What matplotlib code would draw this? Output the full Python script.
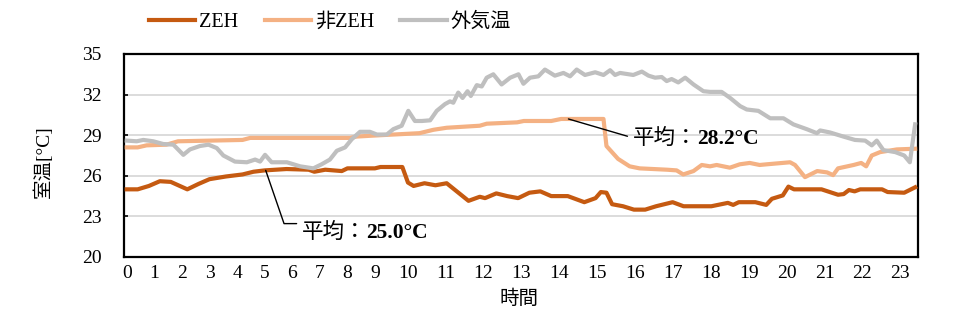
import matplotlib.pyplot as plt
import numpy as np

plt.rcParams['font.family'] = ['Liberation Serif', 'Noto Sans CJK JP']

# 室温・外気温の推移 (時刻は時間単位)
zeh_t = [0.0, 0.33, 0.67, 1.0, 1.33, 1.83, 2.17, 2.5, 3.0, 3.5, 3.83, 4.17, 4.83,
         5.5, 5.67, 6.0, 6.5, 6.67, 7.5, 7.67, 8.33, 8.5, 8.67, 9.0, 9.33, 9.67,
         10.0, 10.33, 10.67, 10.83, 11.17, 11.5, 11.83, 12.17, 12.5, 12.83, 13.33,
         13.83, 14.17, 14.33, 14.5, 14.67, 15.0, 15.33, 15.67, 16.0, 16.5, 16.83,
         17.67, 18.17, 18.33, 18.5, 19.0, 19.33, 19.5, 19.83, 20.0, 20.17, 21.0,
         21.5, 21.67, 21.83, 22.0, 22.17, 22.83, 23.0, 23.5, 23.83]
zeh_v = [25.0, 25.0, 25.25, 25.6, 25.55, 25.0, 25.4, 25.75, 25.95, 26.1, 26.3, 26.4, 26.5,
         26.45, 26.3, 26.45, 26.35, 26.55, 26.55, 26.65, 26.65, 25.5, 25.25, 25.45, 25.3, 25.45,
         24.8, 24.15, 24.45, 24.35, 24.7, 24.5, 24.35, 24.75, 24.85, 24.5, 24.5,
         24.05, 24.35, 24.8, 24.75, 23.9, 23.75, 23.5, 23.5, 23.75, 24.05, 23.75,
         23.75, 24.0, 23.85, 24.05, 24.05, 23.85, 24.3, 24.55, 25.2, 25.0, 25.0,
         24.6, 24.65, 24.95, 24.85, 25.0, 25.0, 24.8, 24.75, 25.15]

non_t = [0.0, 0.33, 0.6, 1.2, 1.55, 3.5, 3.73, 6.75, 6.95, 7.67, 8.85, 9.27, 9.67,
         10.67, 10.88, 11.8, 12.0, 12.83, 13.13, 14.41, 14.5, 14.85, 15.2, 15.5,
         16.33, 16.62, 16.82, 17.13, 17.38, 17.63, 17.83, 18.23, 18.53, 18.83, 19.13,
         19.35, 20.05, 20.2, 20.5, 20.87, 21.17, 21.35, 21.5, 21.97, 22.2, 22.35,
         22.52, 22.77, 23.28, 23.83]
non_v = [28.1, 28.1, 28.25, 28.3, 28.55, 28.65, 28.8, 28.8, 28.9, 29.0, 29.15, 29.4, 29.55,
         29.7, 29.85, 29.95, 30.05, 30.05, 30.2, 30.2, 28.2, 27.25, 26.7, 26.55,
         26.45, 26.4, 26.1, 26.35, 26.8, 26.7, 26.8, 26.6, 26.85, 26.95, 26.8,
         26.85, 27.0, 26.8, 25.9, 26.35, 26.25, 26.05, 26.55, 26.8, 26.95, 26.7,
         27.5, 27.75, 27.95, 28.0]

out_t = [0.0, 0.3, 0.5, 0.8, 1.1, 1.41, 1.71, 1.91, 2.21, 2.47, 2.72, 2.92, 3.27,
         3.63, 3.88, 4.03, 4.18, 4.38, 4.84, 5.24, 5.64, 5.89, 6.14, 6.35, 6.6,
         6.8, 7.05, 7.35, 7.56, 7.86, 8.06, 8.31, 8.51, 8.71, 8.92, 9.17, 9.37,
         9.62, 9.77, 9.87, 10.02, 10.15, 10.3, 10.4, 10.58, 10.73, 10.88, 11.08,
         11.33, 11.59, 11.84, 11.99, 12.19, 12.44, 12.64, 12.94, 13.2, 13.4, 13.6,
         13.85, 14.16, 14.41, 14.61, 14.76, 14.91, 15.31, 15.57, 15.77, 15.97, 16.17,
         16.32, 16.47, 16.67, 16.88, 17.13, 17.43, 17.63, 17.98, 18.24, 18.54, 18.74,
         19.09, 19.45, 19.85, 20.15, 20.55, 20.86, 20.96, 21.26, 21.66, 22.01, 22.32,
         22.52, 22.67, 22.87, 23.23, 23.5, 23.67, 23.83]
out_v = [28.6, 28.55, 28.65, 28.55, 28.35, 28.3, 27.55, 27.95, 28.2, 28.3, 28.05, 27.5, 27.05,
         27.0, 27.2, 27.05, 27.55, 27.0, 27.0, 26.7, 26.55, 26.85, 27.2, 27.85, 28.1,
         28.7, 29.25, 29.25, 29.05, 29.05, 29.45, 29.7, 30.8, 30.05, 30.05, 30.1, 30.8,
         31.3, 31.5, 31.4, 32.15, 31.75, 32.25, 31.9, 32.7, 32.6, 33.25, 33.5,
         32.75, 33.25, 33.5, 32.8, 33.25, 33.35, 33.85, 33.4, 33.6, 33.35, 33.85,
         33.45, 33.65, 33.45, 33.8, 33.45, 33.6, 33.45, 33.7, 33.4, 33.25, 33.3,
         33.0, 33.15, 32.9, 33.25, 32.75, 32.25, 32.2, 32.2, 31.75, 31.15, 30.9,
         30.8, 30.25, 30.25, 29.8, 29.45, 29.15, 29.35, 29.2, 28.9, 28.65, 28.6,
         28.25, 28.6, 27.9, 27.75, 27.5, 27.0, 29.8]

hour_labels = [str(h) for h in range(24)]
y_ticks = [20, 23, 26, 29, 32, 35]

fig = plt.figure(figsize=(9.55, 3.27), dpi=100)
fig.set_facecolor("white")
ax = fig.add_axes([124 / 955, 70 / 327, 794 / 955, 203 / 327])

ax.plot(zeh_t, zeh_v, color="#C55A11", lw=3, solid_joinstyle="round", label="ZEH", zorder=3)
ax.plot(non_t, non_v, color="#F4B183", lw=3, solid_joinstyle="round", label="非ZEH", zorder=3)
ax.plot(out_t, out_v, color="#BFBFBF", lw=3, solid_joinstyle="round", label="外気温", zorder=3)

ax.set_xlim(-1 / 12, 24 - 1 / 12)
ax.set_ylim(20, 35)
ax.set_yticks(y_ticks)
ax.yaxis.grid(True, color="#D9D9D9", lw=1.3, zorder=1)
ax.set_axisbelow(True)
for sp in ax.spines.values():
    sp.set_linewidth(1.6)

# 時刻ラベルは文字幅＋空白で並べた間隔
d, s = 0.311, 0.523
xpos = [0.0]
for a, b in zip(hour_labels[:-1], hour_labels[1:]):
    xpos.append(xpos[-1] + (len(a) + len(b)) * d / 2 + s)
ax.set_xticks(xpos, hour_labels)

ax.tick_params(axis="y", direction="in", length=3, width=1.2, labelsize=14, pad=16)
ax.tick_params(axis="x", length=0, labelsize=14, pad=6)

ax.set_ylabel("室温[°C]", fontsize=14)
ax.yaxis.set_label_coords(-0.09, 0.47)
ax.set_xlabel("時間", fontsize=14)
ax.xaxis.set_label_coords(0.4975, -0.16)

# 平均値の吹き出し
t1 = ax.text(5.29, 21.8, "平均：", ha="left", va="center", fontsize=15.5)
ax.annotate("25.0°C", xy=(1, 0.5), xycoords=t1, ha="left", va="center",
            fontsize=15.5, fontweight="bold")
ax.annotate("", xy=(4.2, 26.4), xytext=(-0.08, 0.95), textcoords=t1,
            arrowprops=dict(arrowstyle="-", color="black", lw=1, shrinkA=0, shrinkB=0,
                            connectionstyle="angle,angleA=0,angleB=-71"))

t2 = ax.text(15.29, 28.7, "平均：", ha="left", va="center", fontsize=15.5)
ax.annotate("28.2°C", xy=(1, 0.5), xycoords=t2, ha="left", va="center",
            fontsize=15.5, fontweight="bold")
ax.annotate("", xy=(13.35, 30.2), xytext=(-0.08, 0.65), textcoords=t2,
            arrowprops=dict(arrowstyle="-", color="black", lw=1, shrinkA=0, shrinkB=0))

fig.legend(loc="center", bbox_to_anchor=(0.3455, 1 - 22 / 327), ncol=3, frameon=False,
           handlelength=2.3, handletextpad=0.2, columnspacing=1.3, fontsize=14.5)

plt.savefig("out.png", dpi=100)
